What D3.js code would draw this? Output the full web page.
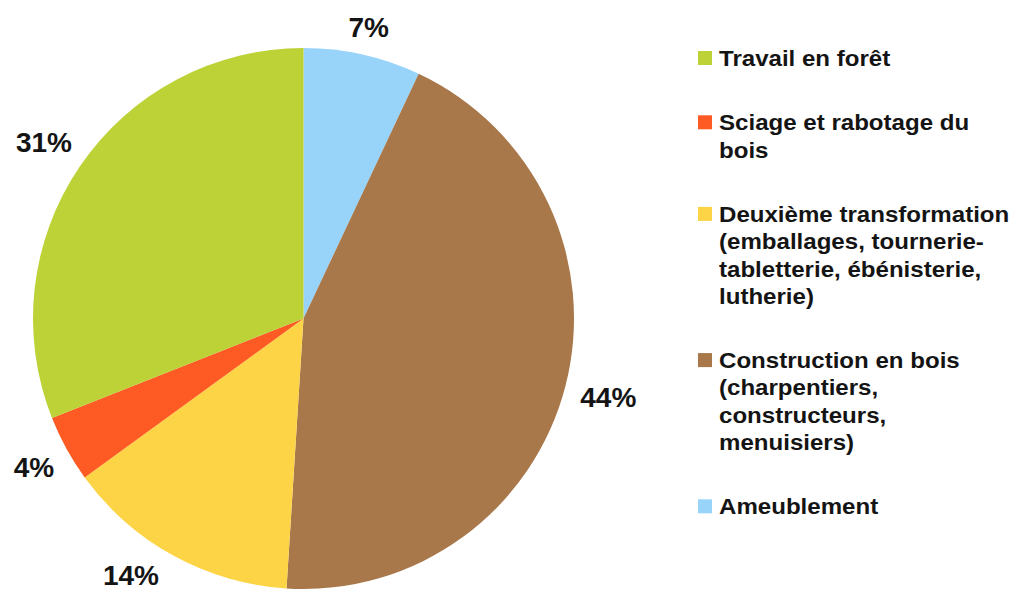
<!DOCTYPE html>
<html>
<head>
<meta charset="utf-8">
<script src="https://cdn.jsdelivr.net/npm/d3@7"></script>
<style>
  html, body { margin: 0; padding: 0; background: #fff; }
  svg { display: block; }
  text { font-family: "Liberation Sans", Arial, Helvetica, sans-serif; font-weight: bold; fill: #141414; }
</style>
</head>
<body>
<svg id="chart" width="1012" height="592"></svg>
<script>
// Legend order
const categories = [
  "Travail en forêt",
  "Sciage et rabotage du bois",
  "Deuxième transformation (emballages, tournerie-tabletterie, ébénisterie, lutherie)",
  "Construction en bois (charpentiers, constructeurs, menuisiers)",
  "Ameublement"
];
const legendLines = [
  ["Travail en forêt"],
  ["Sciage et rabotage du", "bois"],
  ["Deuxième transformation", "(emballages, tournerie-", "tabletterie, ébénisterie,", "lutherie)"],
  ["Construction en bois", "(charpentiers,", "constructeurs,", "menuisiers)"],
  ["Ameublement"]
];
const values = [31, 4, 14, 44, 7];
const colors = ["#bcd236", "#fd5a24", "#fdd445", "#a8774a", "#98d3fa"];

const W = 1012, H = 592;
const svg = d3.select("#chart");
const cx = 303.5, cy = 318.5, r = 270.5;

// pie drawn clockwise from top in reverse legend order
const data = categories.map((c, i) => ({ cat: c, value: values[i], color: colors[i] })).reverse();
const pie = d3.pie().sort(null).value(d => d.value);
const arcs = pie(data);
const arc = d3.arc().innerRadius(0).outerRadius(r);

const g = svg.append("g").attr("transform", `translate(${cx},${cy})`);
g.selectAll("path").data(arcs).enter().append("path")
  .attr("d", arc)
  .attr("fill", d => d.data.color);

// labels outside, kept inside the canvas
const edgeR = 285;
arcs.forEach(a => {
  const mid = (a.startAngle + a.endAngle) / 2;
  const t = g.append("text")
    .attr("text-anchor", "middle")
    .attr("font-size", 28)
    .text(a.data.value + "%");
  const bb = t.node().getBBox();
  const hw = bb.width / 2, hh = 10;
  function place(ang) {
    const ux = Math.sin(ang), uy = -Math.cos(ang);
    const d = edgeR + Math.abs(ux) * hw + Math.abs(uy) * hh;
    return [ux * d, uy * d];
  }
  function fits(p) {
    const x = p[0] + cx, y = p[1] + cy;
    return x - hw >= 0 && x + hw <= W && y - 16 >= 0 && y + 17 <= H;
  }
  let p = place(mid);
  if (!fits(p)) {
    for (let k = 1; k < 200; k++) {
      const off = k * 0.005;
      const p1 = place(mid + off), p2 = place(mid - off);
      if (fits(p1)) { p = p1; break; }
      if (fits(p2)) { p = p2; break; }
    }
  }
  t.attr("x", p[0]).attr("y", p[1] + 10);
});

// legend
const lx = 698, tx = 719, lineH = 27.3, groupGap = 37;
let y = 66;
const lg = svg.append("g");
legendLines.forEach((lines, i) => {
  lg.append("rect")
    .attr("x", lx).attr("y", y - 15)
    .attr("width", 14).attr("height", 14)
    .attr("fill", colors[i]);
  lines.forEach((ln, j) => {
    lg.append("text")
      .attr("transform", `translate(${tx},${y + j * lineH}) scale(1.07,1)`)
      .attr("font-size", 22.5)
      .text(ln);
  });
  y += lines.length * lineH + groupGap;
});
</script>
</body>
</html>
